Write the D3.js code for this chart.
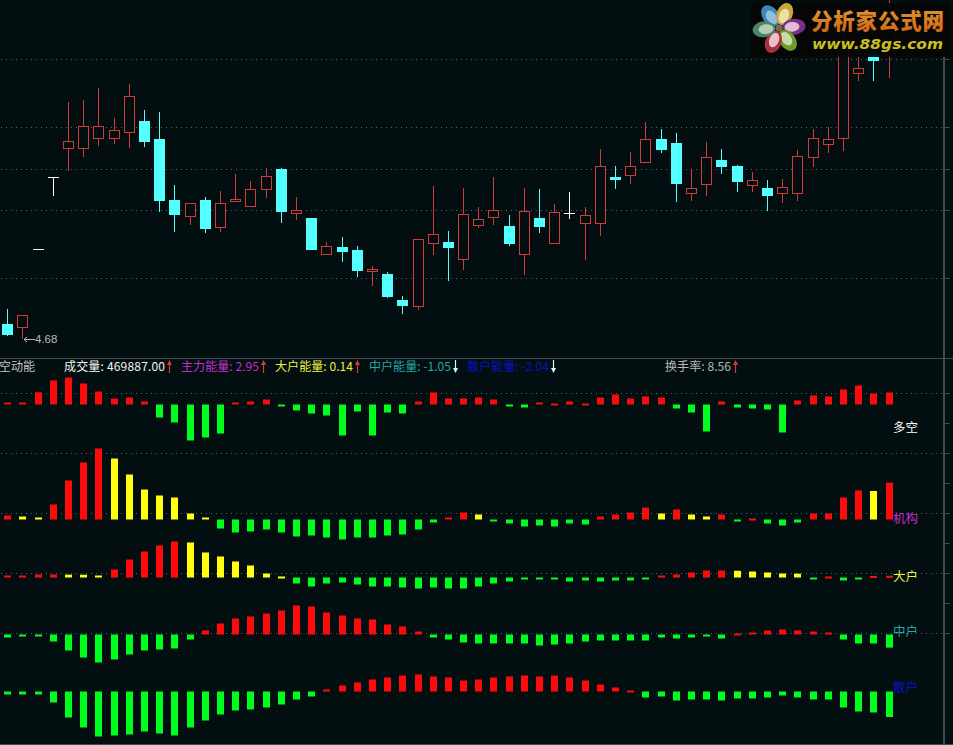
<!DOCTYPE html>
<html><head><meta charset="utf-8">
<script src="https://cdn.jsdelivr.net/npm/d3@7/dist/d3.min.js"></script>
<style>html,body{margin:0;padding:0;background:#020e10;overflow:hidden}svg{display:block}</style>
</head><body><svg id="c" width="953" height="745"></svg>
<script>
const opens =[4.83,4.80,5.58,6.30,6.59,6.59,6.69,6.69,6.75,6.86,6.68,6.07,5.91,6.07,5.80,6.06,6.01,6.18,6.38,5.94,5.89,5.53,5.60,5.57,5.36,5.33,5.07,5.01,5.64,5.65,5.48,5.82,5.90,5.81,5.53,5.89,5.64,5.94,5.84,5.84,6.30,6.32,6.45,6.68,6.64,6.14,6.23,6.47,6.41,6.22,6.19,6.14,6.14,6.50,6.63,6.69,7.34,7.53,7.53];
const highs =[4.98,4.92,5.58,6.30,7.05,7.07,7.19,6.89,7.23,6.97,6.95,6.22,6.04,6.10,6.16,6.33,6.26,6.39,6.39,6.10,5.89,5.65,5.70,5.61,5.41,5.35,5.11,5.68,6.21,5.76,6.19,6.00,6.30,5.92,6.19,6.18,6.03,6.15,6.00,6.58,6.41,6.55,6.85,6.78,6.74,6.38,6.65,6.58,6.42,6.35,6.27,6.28,6.57,6.78,6.80,7.82,7.62,7.71,8.09];
const lows  =[4.71,4.68,5.58,6.11,6.36,6.50,6.61,6.63,6.59,6.60,5.95,5.75,5.82,5.74,5.75,6.06,6.01,6.09,5.84,5.87,5.57,5.52,5.45,5.30,5.21,5.09,4.93,4.97,5.52,5.26,5.37,5.79,5.82,5.61,5.32,5.74,5.64,5.88,5.47,5.71,6.18,6.23,6.45,6.54,6.05,6.06,6.11,6.33,6.15,6.15,5.96,6.04,6.06,6.40,6.54,6.56,7.26,7.26,7.29];
const closes=[4.72,4.92,5.58,6.30,6.66,6.81,6.81,6.77,7.11,6.65,6.06,5.92,6.04,5.78,6.04,6.08,6.18,6.31,5.95,5.97,5.57,5.61,5.55,5.36,5.38,5.10,5.01,5.68,5.73,5.59,5.93,5.88,5.97,5.63,5.96,5.80,5.95,5.94,5.92,6.41,6.27,6.41,6.68,6.57,6.23,6.19,6.50,6.40,6.25,6.27,6.11,6.20,6.51,6.69,6.68,7.67,7.39,7.46,7.87];

const duokong=[.16,.16,.98,1.92,2.16,1.68,1.04,.48,.56,.24,-1.04,-1.44,-2.88,-2.64,-2.32,.16,.24,.40,-.16,-.48,-.72,-.88,-2.48,-.56,-2.48,-.64,-.72,.24,.96,.48,.48,.56,.40,-.16,-.24,.16,.08,.24,.08,.56,.80,.48,.64,.56,-.32,-.64,-2.16,.24,-.24,-.32,-.40,-2.24,.32,.72,.64,1.20,1.52,.88,.96];
const jigou=[.32,.24,.16,1.20,3.12,4.56,5.68,4.88,3.60,2.40,1.92,1.76,.48,.16,-.72,-1.04,-.96,-.80,-1.04,-1.36,-1.28,-1.44,-1.60,-1.44,-1.44,-1.28,-1.20,-.80,-.24,.16,.56,.40,-.16,-.32,-.56,-.48,-.56,-.32,-.40,.24,.40,.56,.96,.48,.80,.40,.24,.40,-.16,.08,-.32,-.48,-.24,.48,.48,1.76,2.32,2.28,2.95];
const dahu=[.16,.16,.24,.24,.23,.22,.16,.64,1.44,2.08,2.56,2.88,2.80,2.00,1.68,1.28,.96,.32,.08,-.48,-.72,-.48,-.40,-.56,-.72,-.72,-.80,-.88,-.80,-.88,-.88,-.72,-.48,-.32,-.16,-.08,-.16,-.32,-.24,-.32,-.24,-.24,-.16,.16,.24,.40,.56,.56,.54,.48,.40,.32,.31,-.08,.08,-.24,-.16,.12,.14];
const zhonghu=[-.24,-.16,-.16,-.56,-1.28,-1.84,-2.24,-2.00,-1.60,-1.28,-1.20,-1.12,-.40,.32,.88,1.28,1.44,1.68,1.92,2.32,2.24,1.76,1.52,1.28,1.20,.80,.64,.24,-.24,-.40,-.64,-.72,-.72,-.72,-.72,-.88,-.80,-.72,-.56,-.48,-.48,-.48,-.48,-.24,-.32,-.24,-.16,-.32,.08,.16,.32,.40,.32,.24,.16,-.40,-.72,-.72,-1.05];
const sanhu=[-.24,-.24,-.24,-.88,-2.08,-2.88,-3.60,-3.52,-3.44,-3.20,-3.36,-3.52,-2.88,-2.32,-1.84,-1.52,-1.44,-1.28,-1.04,-.64,-.40,.16,.48,.72,.96,1.12,1.28,1.36,1.20,1.12,.88,.96,1.12,1.20,1.28,1.20,1.28,1.12,.88,.56,.32,.08,-.48,-.40,-.72,-.64,-.64,-.72,-.56,-.56,-.48,-.32,-.48,-.64,-.64,-1.28,-1.60,-1.68,-2.04];

const priceGrid=[7.48,6.80,6.38,5.97,5.29];
const panelNames=["多空","机构","大户","中户","散户"];
const headerLabels=["成交量: 469887.00","主力能量: 2.95","大户能量: 0.14","中户能量: -1.05","散户能量: -2.04","换手率: 8.56"];
const headerDirs=[1,1,1,-1,-1,1];
const lowLabel="4.68";
const logoTitle="分析家公式网", logoUrl="www.88gs.com";
const petalColors=[["#3f86b8","#8cc0dc"],["#c8a838","#ece0a8"],["#7a3088","#e0bcd0"],["#6e9a30","#c8dca8"],["#a83040","#ecc0c8"],["#4a8468","#b4ccb4"]];

const CJK='"Noto Sans CJK SC",sans-serif';
const svg=d3.select("#c");
svg.append("rect").attr("width",953).attr("height",745).attr("fill","#020e10");
const N=opens.length;
const x=d3.scaleLinear().domain([0,N-1]).range([7.3,888.5]);
const y=d3.scaleLinear().domain([4.68,8.09]).range([339,-2]);
const lineCol="#3d4e4e", gridCol="#4d6464";
const snap=v=>Math.round(v)+.5, sx=i=>Math.round(x(i))+.5;

const grid=svg.append("g").attr("stroke",gridCol).attr("stroke-dasharray","1,4");
const lowerGrid=d3.scaleLinear().domain([0,8]).range([393,633]);
[...priceGrid.map(p=>y(p)),...[0,2,4,6,8].map(k=>lowerGrid(k))].forEach(v=>
  grid.append("line").attr("x1",1).attr("x2",944).attr("y1",snap(v)).attr("y2",snap(v)));

const candles=d3.range(N).map(i=>({i,o:opens[i],h:highs[i],l:lows[i],c:closes[i]}));
const colour=d=>d.c>d.o?"#d23a3a":d.c<d.o?"#54ffff":"#ffffff";
const gc=svg.append("g").selectAll("g").data(candles).join("g");
const W=11;
gc.each(function(d){
  const g=d3.select(this),col=colour(d),cx=sx(d.i);
  const t=Math.round(y(Math.max(d.o,d.c))),b=Math.round(y(Math.min(d.o,d.c)));
  g.append("line").attr("x1",cx).attr("x2",cx).attr("y1",Math.round(y(d.h))).attr("y2",t).attr("stroke",col);
  g.append("line").attr("x1",cx).attr("x2",cx).attr("y1",b).attr("y2",Math.round(y(d.l))).attr("stroke",col);
  if(d.c>d.o) g.append("rect").attr("x",cx-5).attr("y",t+.5).attr("width",W-1).attr("height",b-t).attr("fill","#020e10").attr("stroke",col);
  else if(d.c<d.o) g.append("rect").attr("x",cx-5.5).attr("y",t).attr("width",W).attr("height",b-t).attr("fill",col);
  else g.append("line").attr("x1",cx-5.5).attr("x2",cx+5.5).attr("y1",t+.5).attr("y2",t+.5).attr("stroke",col);
});

const lowY=y(4.68);
svg.append("path").attr("d",`M35 ${snap(lowY)}H24M27 ${snap(lowY)-2.5}L24 ${snap(lowY)}L27 ${snap(lowY)+2.5}`).attr("stroke","#b8b8b8").attr("fill","none");
svg.append("text").attr("x",35).attr("y",lowY+4).attr("fill","#b8b8b8").attr("font-family","Liberation Sans,sans-serif").attr("font-size",11.5).text(lowLabel);

svg.append("line").attr("x1",0).attr("x2",953).attr("y1",358.5).attr("y2",358.5).attr("stroke",lineCol);
svg.append("line").attr("x1",0).attr("x2",953).attr("y1",744.5).attr("y2",744.5).attr("stroke",lineCol);

const axisG=svg.append("g");
axisG.append("g").attr("transform","translate(944.5,0)").call(
  d3.axisRight(y).tickValues(priceGrid).tickSize(5).tickFormat("")).call(g=>g.select(".domain").remove());
axisG.append("g").attr("transform","translate(944.5,0)").call(
  d3.axisRight(lowerGrid).tickValues(d3.range(9)).tickSize(5).tickFormat("")).call(g=>g.select(".domain").remove());
axisG.selectAll(".tick line").attr("stroke",lineCol);
axisG.append("rect").attr("x",943).attr("y",57).attr("width",2).attr("height",688).attr("fill",lineCol);

const PX=12.5;
const panels=[
 {v:duokong,zero:404.5,fade:false},
 {v:jigou,zero:519.5,fade:true},
 {v:dahu,zero:577.5,fade:true},
 {v:zhonghu,zero:634.5,fade:false},
 {v:sanhu,zero:691.5,fade:false}];
panels.forEach(p=>{
  const ys=d3.scaleLinear().domain([0,1]).range([p.zero,p.zero-PX]);
  svg.append("g").selectAll("rect").data(p.v).join("rect")
   .attr("x",(d,i)=>sx(i)-3.5).attr("width",7)
   .attr("y",d=>d>0?ys(d):ys(0))
   .attr("height",d=>Math.max(2,Math.abs(ys(d)-ys(0))))
   .attr("fill",(d,i)=>d<0?"#00ff1e":(p.fade&&i>0&&d<p.v[i-1]&&p.v[i-1]>0?"#ffff14":"#ff0a0a"));
});

const hdrX=[64,181,275,369,467,665], arrX=[169,263,357,455,553,735];
const hdrC=["#f4f4f4","#c030c8","#f0f040","#22a8a8","#0a10c8","#b8b8b8"];
const hdr=svg.append("g").attr("font-family",CJK).attr("font-size",12);
hdr.append("text").attr("x",-1).attr("y",371).attr("fill","#c4c4c4").text("空动能");
headerLabels.forEach((t,i)=>{
  hdr.append("text").attr("x",hdrX[i]).attr("y",371).attr("fill",hdrC[i]).attr("textLength",arrX[i]-hdrX[i]-4).text(t);
  const ax=arrX[i]+.5,up=headerDirs[i]>0,c=up?"#d83a3a":"#c8ffff";
  hdr.append("path").attr("d",up?`M${ax} 373V364`:`M${ax} 360V369`).attr("stroke",c).attr("stroke-width",1.2).attr("fill","none");
  hdr.append("path").attr("d",up?`M${ax-2.5} 365L${ax} 360L${ax+2.5} 365Z`:`M${ax-2.5} 368L${ax} 373L${ax+2.5} 368Z`).attr("fill",c);
});

const nameY=[432,523,581,636,692], nameC=["#ffffff","#c030c8","#f0f040","#22a8a8","#0a10c8"];
svg.append("g").selectAll("text").data(panelNames).join("text")
 .attr("x",893).attr("y",(d,i)=>nameY[i]).attr("fill",(d,i)=>nameC[i])
 .attr("font-family",CJK).attr("font-size",12.5).text(d=>d);

const defs=svg.append("defs");
const grad=defs.append("linearGradient").attr("id","lg").attr("x1",0).attr("x2",0).attr("y1",0).attr("y2",1);
grad.append("stop").attr("offset","0").attr("stop-color","#e0a030");
grad.append("stop").attr("offset","1").attr("stop-color","#d06018");
const logo=svg.append("g");
logo.append("rect").attr("x",751).attr("y",3).attr("width",199).attr("height",54).attr("fill","#060606").attr("opacity",.95);
const fx=779,fy=28;
petalColors.forEach((c,i)=>{
  const a=[-125,-68,-5,55,112,175][i];
  const g=logo.append("g").attr("transform",`translate(${fx},${fy}) rotate(${a})`);
  g.append("ellipse").attr("cx",15).attr("rx",11.5).attr("ry",8).attr("fill",c[0]);
  g.append("ellipse").attr("cx",13).attr("rx",7.5).attr("ry",4.8).attr("fill",c[1]);
});
logo.append("circle").attr("cx",fx).attr("cy",fy).attr("r",3.5).attr("fill","#7a6a50");
logo.append("text").attr("x",811).attr("y",29).attr("font-family",CJK).attr("font-weight",900)
  .attr("font-size",21.5).attr("textLength",133).attr("fill","url(#lg)").text(logoTitle);
logo.append("text").attr("x",812).attr("y",49).attr("font-family","DejaVu Sans,sans-serif").attr("font-weight",700).attr("font-style","italic")
  .attr("font-size",14.5).attr("textLength",131).attr("lengthAdjust","spacingAndGlyphs").attr("fill","#c8c020").text(logoUrl);
</script></body></html>
